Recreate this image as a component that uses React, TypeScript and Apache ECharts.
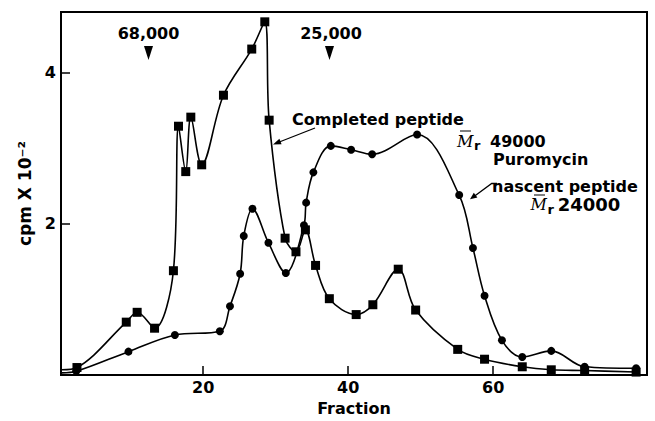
import React, { useEffect, useRef } from 'react';
import * as echarts from 'echarts';

// Completed peptide (squares)
const squareFraction = [0.5, 2.6, 9.4, 10.9, 13.3, 15.9, 16.6, 17.6, 18.3, 19.8, 22.8, 26.7, 28.5, 29.1, 31.3, 32.8, 34.1, 35.5, 37.4, 41.1, 43.4, 46.9, 49.3, 55.1, 58.8, 64.0, 68.0, 72.6, 79.7];
const squareCpm = [0.07, 0.1, 0.7, 0.83, 0.62, 1.38, 3.29, 2.69, 3.41, 2.78, 3.7, 4.31, 4.67, 3.37, 1.81, 1.63, 1.92, 1.45, 1.01, 0.8, 0.93, 1.4, 0.86, 0.34, 0.21, 0.11, 0.07, 0.06, 0.04];

// Puromycin nascent peptide (circles)
const circleFraction = [0.5, 2.5, 9.7, 16.1, 22.3, 23.7, 25.1, 25.6, 26.8, 29.0, 31.4, 33.9, 34.2, 35.2, 37.6, 40.4, 43.3, 49.5, 55.3, 57.2, 58.8, 61.2, 64.0, 68.0, 72.6, 79.7];
const circleCpm = [0.03, 0.05, 0.31, 0.53, 0.58, 0.91, 1.34, 1.84, 2.2, 1.75, 1.35, 1.98, 2.28, 2.68, 3.03, 2.98, 2.92, 3.18, 2.38, 1.68, 1.05, 0.46, 0.24, 0.32, 0.11, 0.09];

const xTicks = [20, 40, 60];
const yTicks = [2, 4];

const FONT = 'DejaVu Sans';

function toData(xs: number[], ys: number[]) {
  return xs.map((x, i) => (i === 0 ? { value: [x, ys[i]], symbol: 'none' } : [x, ys[i]]));
}

const txt = (x: number, y: number, text: string, extra: any = {}) => ({
  type: 'text',
  x,
  y,
  style: {
    text,
    fontFamily: FONT,
    fontWeight: 'bold',
    fontSize: 16,
    fill: '#000',
    align: 'left',
    verticalAlign: 'middle',
    ...extra,
  },
});

export default function App() {
  const ref = useRef<HTMLDivElement>(null);
  useEffect(() => {
    const chart = echarts.init(ref.current!, null, { renderer: 'svg' });
    const axisFont = { color: '#000', fontFamily: FONT, fontWeight: 'bold', fontSize: 16 };
    chart.setOption({
      animation: false,
      backgroundColor: '#fff',
      grid: { left: 61, top: 12, width: 586, height: 370, show: true, borderColor: '#000', borderWidth: 2, backgroundColor: 'transparent' },
      xAxis: {
        type: 'value',
        min: 0.4,
        max: 81.2,
        axisLine: { lineStyle: { color: '#000', width: 2 } },
        axisTick: { inside: true, length: 9, customValues: xTicks, lineStyle: { color: '#000', width: 1.5 } },
        axisLabel: { ...axisFont, customValues: xTicks, margin: 4 },
        splitLine: { show: false },
        name: 'Fraction',
        nameLocation: 'middle',
        nameGap: 15,
        nameTextStyle: { ...axisFont, verticalAlign: 'top' },
      },
      yAxis: {
        type: 'value',
        min: 0,
        max: 4.8,
        axisLine: { lineStyle: { color: '#000', width: 2 } },
        axisTick: { inside: true, length: 9, customValues: yTicks, lineStyle: { color: '#000', width: 1.5 } },
        axisLabel: { ...axisFont, customValues: yTicks, margin: 5 },
        splitLine: { show: false },
        name: 'cpm X 10⁻²',
        nameLocation: 'middle',
        nameRotate: 90,
        nameGap: 27,
        nameTextStyle: { ...axisFont, fontSize: 17 },
      },
      series: [
        {
          type: 'line',
          name: 'Completed peptide',
          data: toData(squareFraction, squareCpm),
          smooth: 0.35,
          symbol: 'rect',
          symbolSize: 9,
          itemStyle: { color: '#000' },
          lineStyle: { color: '#000', width: 1.6 },
        },
        {
          type: 'line',
          name: 'Puromycin nascent peptide',
          data: toData(circleFraction, circleCpm),
          smooth: 0.35,
          symbol: 'circle',
          symbolSize: 8,
          itemStyle: { color: '#000' },
          lineStyle: { color: '#000', width: 1.6 },
        },
      ],
      graphic: [
        txt(148.5, 33, '68,000', { align: 'center' }),
        { type: 'polygon', shape: { points: [[144, 46], [153, 46], [148.5, 60]] }, style: { fill: '#000' } },
        txt(331, 33, '25,000', { align: 'center' }),
        { type: 'polygon', shape: { points: [[325, 46], [334, 46], [329.5, 60]] }, style: { fill: '#000' } },
        txt(292, 119, 'Completed peptide'),
        { type: 'line', shape: { x1: 315, y1: 128, x2: 278, y2: 142.5 }, style: { stroke: '#000', lineWidth: 1.3 } },
        { type: 'polygon', shape: { points: [[273, 144.5], [281.6, 144.3], [279.4, 138.7]] }, style: { fill: '#000' } },
        txt(457, 141, 'M', { fontFamily: 'DejaVu Serif', fontStyle: 'italic', fontWeight: 'normal', fontSize: 16 }),
        { type: 'line', shape: { x1: 460, y1: 131, x2: 471, y2: 131 }, style: { stroke: '#000', lineWidth: 1 } },
        txt(474, 145.5, 'r', { fontSize: 13 }),
        txt(490, 141, '49000'),
        txt(493, 159, 'Puromycin'),
        txt(492, 186, 'nascent peptide'),
        { type: 'polyline', shape: { points: [[497, 183.5], [491.7, 183.5], [474, 196.5]] }, style: { stroke: '#000', lineWidth: 1.3, fill: 'none' } },
        { type: 'polygon', shape: { points: [[470, 199.3], [477.4, 197.6], [473.8, 192.8]] }, style: { fill: '#000' } },
        txt(530.5, 204.5, 'M', { fontFamily: 'DejaVu Serif', fontStyle: 'italic', fontWeight: 'normal', fontSize: 16 }),
        { type: 'line', shape: { x1: 534, y1: 195, x2: 545, y2: 195 }, style: { stroke: '#000', lineWidth: 1 } },
        txt(547.5, 209, 'r', { fontSize: 13 }),
        txt(589, 204.5, '24000', { align: 'center', fontSize: 18 }),
      ],
    });
    return () => chart.dispose();
  }, []);
  return <div ref={ref} style={{ position: 'fixed', left: 0, top: 0, width: 655, height: 421, background: '#fff' }} />;
}
